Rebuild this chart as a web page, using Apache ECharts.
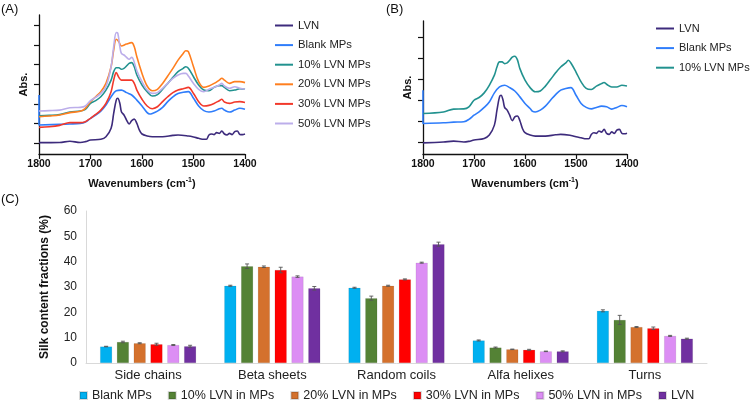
<!DOCTYPE html>
<html>
<head>
<meta charset="utf-8">
<script src="https://cdn.jsdelivr.net/npm/echarts@6/dist/echarts.min.js"></script>
<style>html,body{margin:0;padding:0;background:#fff}#c{width:750px;height:400px}</style>
</head>
<body>
<div id="c"></div>
<script>
// ---------- Panel A (FTIR spectra, arbitrary absorbance units) ----------
const lvnA_wn = [1800,1760,1740,1720,1710,1700,1680,1670,1660,1655,1650,1647,1643,1640,1635,1630,1625,1620,1615,1610,1605,1600,1590,1580,1560,1540,1530,1510,1500,1490,1480,1475,1470,1465,1460,1455,1450,1445,1440,1435,1430,1425,1420,1415,1410,1405,1400];
const lvnA_abs = [0.02,0.03,0.09,0.03,0.07,0.15,0.19,0.32,0.75,1.51,2.19,2.28,2.02,1.60,1.43,1.17,0.97,1.14,1.22,1.00,0.66,0.46,0.36,0.32,0.32,0.39,0.41,0.36,0.31,0.24,0.19,0.19,0.41,0.46,0.43,0.53,0.49,0.61,0.46,0.41,0.49,0.43,0.58,0.61,0.44,0.43,0.46];

const blankA_wn = [1800,1800,1760,1740,1720,1710,1700,1690,1680,1670,1660,1650,1640,1630,1620,1610,1600,1590,1585,1580,1570,1560,1550,1540,1530,1520,1510,1500,1490,1480,1470,1460,1450,1445,1440,1430,1420,1410,1400];
const blankA_abs = [2.45,0.92,0.95,0.97,1.00,1.07,1.26,1.43,1.63,1.94,2.36,2.67,2.70,2.57,2.45,2.19,1.89,1.55,1.48,1.51,1.63,1.82,2.11,2.36,2.53,2.59,2.62,2.28,1.89,1.65,1.58,1.63,1.75,1.77,1.68,1.58,1.68,1.77,1.72];

const p10A_wn = [1800,1780,1760,1740,1720,1710,1700,1690,1680,1670,1660,1655,1650,1645,1640,1635,1630,1625,1620,1615,1610,1600,1590,1580,1570,1560,1550,1540,1530,1520,1515,1510,1500,1490,1480,1470,1460,1450,1445,1440,1430,1420,1410,1400];
const p10A_abs = [1.39,1.41,1.45,1.58,1.63,1.72,2.02,2.16,2.36,2.70,3.21,3.64,3.84,3.84,3.76,3.81,3.93,4.06,4.10,3.89,3.47,2.96,2.62,2.40,2.47,2.74,3.04,3.35,3.64,3.81,3.89,3.81,3.38,2.96,2.70,2.67,2.84,2.93,2.93,2.84,2.67,2.70,2.77,2.74];

const p20A_wn = [1800,1780,1760,1740,1720,1710,1700,1690,1680,1670,1660,1655,1650,1645,1640,1630,1620,1615,1610,1600,1590,1580,1570,1560,1550,1540,1530,1520,1515,1510,1500,1490,1480,1470,1460,1450,1445,1440,1430,1420,1410,1400];
const p20A_abs = [1.34,1.38,1.43,1.55,1.62,1.77,2.11,2.36,2.62,3.04,3.89,4.74,5.29,5.17,4.95,5.05,5.12,4.91,4.40,3.55,2.91,2.67,2.74,3.04,3.42,3.81,4.23,4.57,4.71,4.66,3.89,3.13,2.84,2.91,3.04,3.21,3.30,3.21,3.04,3.13,3.13,3.08];

const p30A_wn = [1800,1780,1760,1740,1720,1710,1700,1690,1680,1670,1660,1655,1650,1645,1640,1630,1620,1615,1610,1600,1590,1580,1570,1560,1550,1540,1530,1520,1510,1500,1490,1480,1470,1460,1450,1445,1440,1430,1420,1410,1400];
const p30A_abs = [0.80,0.83,0.90,1.04,1.04,1.09,1.26,1.46,1.68,2.02,2.62,3.21,3.59,3.35,3.21,3.21,3.21,3.04,2.70,2.23,1.89,1.75,1.85,2.11,2.36,2.57,2.70,2.77,2.84,2.53,2.11,1.89,1.92,2.02,2.16,2.23,2.09,2.02,2.09,2.11,2.07];

const p50A_wn = [1800,1780,1760,1740,1720,1710,1700,1690,1680,1670,1660,1655,1650,1647,1643,1640,1635,1630,1625,1620,1617,1610,1600,1590,1580,1570,1560,1550,1540,1530,1520,1515,1510,1500,1490,1480,1470,1460,1450,1445,1440,1430,1420,1410,1400];
const p50A_abs = [1.63,1.65,1.68,1.80,1.82,1.89,2.16,2.33,2.53,2.87,3.89,4.91,5.63,5.60,4.91,4.57,4.49,4.37,4.27,4.37,4.27,3.69,3.13,2.70,2.53,2.57,2.79,3.04,3.30,3.47,3.55,3.55,3.42,3.04,2.74,2.62,2.74,2.84,2.96,3.04,2.91,2.79,2.87,2.79,2.74];

// ---------- Panel B ----------
const lvnB_wn = [1800,1760,1740,1720,1710,1700,1680,1670,1660,1655,1650,1647,1643,1640,1635,1630,1625,1620,1615,1610,1605,1600,1590,1580,1560,1540,1530,1510,1500,1490,1480,1475,1470,1465,1460,1455,1450,1445,1440,1435,1430,1425,1420,1415,1410,1405,1400];
const lvnB_abs = [-0.02,0.02,0.06,0.02,0.05,0.11,0.19,0.35,0.82,1.53,2.16,2.24,2.00,1.66,1.53,1.29,1.03,1.21,1.25,1.03,0.66,0.46,0.35,0.30,0.30,0.36,0.38,0.33,0.27,0.22,0.17,0.17,0.38,0.46,0.43,0.54,0.49,0.62,0.43,0.38,0.50,0.43,0.58,0.62,0.43,0.41,0.44];

const blankB_wn = [1800,1800,1760,1740,1720,1710,1700,1690,1680,1670,1660,1650,1640,1630,1620,1610,1600,1590,1585,1580,1570,1560,1550,1540,1530,1520,1510,1500,1490,1480,1470,1460,1450,1440,1430,1420,1410,1400];
const blankB_abs = [2.48,0.90,0.93,0.96,0.98,1.09,1.29,1.45,1.66,1.92,2.35,2.63,2.71,2.60,2.44,2.16,1.85,1.61,1.47,1.44,1.53,1.72,2.00,2.27,2.48,2.56,2.60,2.24,1.85,1.66,1.59,1.66,1.72,1.69,1.58,1.66,1.75,1.69];

const p10B_wn = [1800,1760,1740,1720,1710,1700,1690,1680,1670,1660,1655,1650,1645,1640,1635,1630,1625,1620,1615,1610,1600,1590,1580,1570,1560,1550,1540,1530,1520,1515,1510,1500,1490,1480,1470,1460,1450,1445,1440,1430,1420,1410,1400];
const p10B_abs = [1.37,1.44,1.58,1.59,1.69,2.00,2.13,2.35,2.71,3.19,3.58,3.82,3.82,3.74,3.77,3.90,4.05,4.09,3.93,3.50,2.95,2.60,2.40,2.44,2.67,2.98,3.30,3.58,3.77,3.90,3.77,3.34,2.87,2.56,2.51,2.67,2.79,2.84,2.76,2.63,2.63,2.71,2.68];

const spectraTicksA = [0,1,2,3,4,5,6];
const spectraTicksB = [0,1,2,3,4,5];

// ---------- Panel C (secondary structure, %) ----------
const structures = ['Side chains','Beta sheets','Random coils','Alfa helixes','Turns'];
const barNames = ['Blank MPs','10% LVN in MPs','20% LVN in MPs','30% LVN in MPs','50% LVN in MPs','LVN'];
const blankC = [6.5, 30.5, 29.7, 8.9, 20.6];
const p10C   = [8.3, 38.2, 25.6, 6.1, 17.0];
const p20C   = [7.8, 38.0, 30.5, 5.4, 14.2];
const p30C   = [7.4, 36.7, 33.0, 5.2, 13.7];
const p50C   = [7.1, 34.1, 39.6, 4.6, 10.7];
const lvnC   = [6.6, 29.5, 46.9, 4.6, 9.6];
const blankErr = [0.1, 0.2, 0.2, 0.2, 0.4];
const p10Err   = [0.3, 0.9, 0.8, 0.2, 1.8];
const p20Err   = [0.2, 0.3, 0.2, 0.1, 0.2];
const p30Err   = [0.4, 1.1, 0.2, 0.2, 0.5];
const p50Err   = [0.2, 0.3, 0.2, 0.1, 0.2];
const lvnErr   = [0.4, 0.7, 0.8, 0.2, 0.2];

const FONT = '"Liberation Sans", Arial, Helvetica, sans-serif';
const lineColors = {LVN:'#3d2b7c', Blank:'#2f7dfb', p10:'#22928f', p20:'#ff7f1f', p30:'#f2392b', p50:'#bcaeea'};
const barColors = ['#00b0f0','#548235','#d4712d','#ff0000','#dc8ef4','#7030a0'];

function pairs(wn, v){ return wn.map((w,i)=>[w, v[i]]); }
function lineSeries(name, idx, wn, v, color){
  return {type:'line', name:name, xAxisIndex:idx, yAxisIndex:idx, data:pairs(wn,v),
    showSymbol:false, symbol:'none', smooth:0.35, z:3,
    itemStyle:{color:color}, lineStyle:{color:color, width:1.6}, emphasis:{disabled:true}};
}
function specX(idx){
  return {type:'value', gridIndex:idx, min:1400, max:1800, interval:100, inverse:true,
    name:'Wavenumbers (cm{sup|-1})', nameLocation:'middle', nameGap:23,
    nameTextStyle:{fontFamily:FONT, fontSize:11, fontWeight:'bold', color:'#111',
      rich:{sup:{fontFamily:FONT, fontSize:7, fontWeight:'bold', color:'#111', padding:[0,0,6,0]}}},
    axisLine:{onZero:false, lineStyle:{color:'#111', width:1.3}},
    axisTick:{show:true, length:5, lineStyle:{color:'#111', width:1.2}},
    axisLabel:{fontFamily:FONT, fontSize:10.5, fontWeight:'bold', color:'#111', margin:5,
      formatter:v => String(v)},
    splitLine:{show:false}};
}
function specY(idx, min, max, ticks){
  return {type:'value', gridIndex:idx, min:min, max:max,
    name:'Abs.', nameLocation:'middle', nameGap:10, nameRotate:90,
    nameTextStyle:{fontFamily:FONT, fontSize:11, fontWeight:'bold', color:'#111'},
    axisLine:{show:true, onZero:false, lineStyle:{color:'#111', width:1.3}},
    axisTick:{show:true, length:5, customValues:ticks, lineStyle:{color:'#111', width:1.2}},
    axisLabel:{show:false, customValues:ticks},
    splitLine:{show:false}};
}

const barSeriesData = [blankC,p10C,p20C,p30C,p50C,lvnC];
const errData = [blankErr,p10Err,p20Err,p30Err,p50Err,lvnErr];
const BAR_W = 12, BAR_GAP = 0.4;
const errItems = [];
barSeriesData.forEach((arr, s)=>arr.forEach((v, c)=>errItems.push([c, v, errData[s][c], s])));

const series = [
  lineSeries('A|LVN',0,lvnA_wn,lvnA_abs,lineColors.LVN),
  lineSeries('A|Blank MPs',0,blankA_wn,blankA_abs,lineColors.Blank),
  lineSeries('A|10% LVN MPs',0,p10A_wn,p10A_abs,lineColors.p10),
  lineSeries('A|20% LVN MPs',0,p20A_wn,p20A_abs,lineColors.p20),
  lineSeries('A|30% LVN MPs',0,p30A_wn,p30A_abs,lineColors.p30),
  lineSeries('A|50% LVN MPs',0,p50A_wn,p50A_abs,lineColors.p50),
  lineSeries('B|LVN',1,lvnB_wn,lvnB_abs,lineColors.LVN),
  lineSeries('B|Blank MPs',1,blankB_wn,blankB_abs,lineColors.Blank),
  lineSeries('B|10% LVN MPs',1,p10B_wn,p10B_abs,lineColors.p10)
];
barNames.forEach((n,i)=>series.push({type:'bar', name:n, xAxisIndex:2, yAxisIndex:2,
  data:barSeriesData[i], barWidth:BAR_W, barGap:(BAR_GAP*100)+'%',
  itemStyle:{color:barColors[i], borderColor:'rgba(0,0,0,0.15)', borderWidth:0.5}, emphasis:{disabled:true}}));
series.push({type:'custom', name:'err', xAxisIndex:2, yAxisIndex:2, data:errItems, z:5, silent:true,
  encode:{x:0, y:1},
  renderItem:function(params, api){
    const c = api.value(0), v = api.value(1), e = api.value(2), s = api.value(3);
    const off = (s - 2.5) * BAR_W * (1 + BAR_GAP);
    const top = api.coord([c, v + e]);
    const bot = api.coord([c, v - e]);
    const x = top[0] + off;
    const st = {stroke:'#555', lineWidth:0.9};
    return {type:'group', children:[
      {type:'line', shape:{x1:x, y1:top[1], x2:x, y2:bot[1]}, style:st},
      {type:'line', shape:{x1:x-2, y1:top[1], x2:x+2, y2:top[1]}, style:st},
      {type:'line', shape:{x1:x-2, y1:bot[1], x2:x+2, y2:bot[1]}, style:st}
    ]};
  }});

const stripFmt = n => n.split('|')[1];
const option = {
  animation:false,
  backgroundColor:'#fff',
  textStyle:{fontFamily:FONT},
  title:[
    {text:'(A)', left:-4, top:-2, textStyle:{fontFamily:FONT, fontSize:13, fontWeight:'normal', color:'#111'}},
    {text:'(B)', left:381, top:-2, textStyle:{fontFamily:FONT, fontSize:13, fontWeight:'normal', color:'#111'}},
    {text:'(C)', left:-4, top:188, textStyle:{fontFamily:FONT, fontSize:13, fontWeight:'normal', color:'#111'}}
  ],
  grid:[
    {left:39, top:15, width:206, height:139},
    {left:423, top:21, width:204, height:133},
    {left:86, top:211, width:621, height:152}
  ],
  xAxis:[
    specX(0), specX(1),
    {type:'category', gridIndex:2, data:structures,
      axisLine:{lineStyle:{color:'#d9d9d9', width:1}}, axisTick:{show:false},
      axisLabel:{fontFamily:FONT, fontSize:13, color:'#222', margin:6}}
  ],
  yAxis:[
    specY(0, -0.56, 6.53, spectraTicksA),
    specY(1, -0.55, 5.76, spectraTicksB),
    {type:'value', gridIndex:2, min:0, max:60, interval:10,
      name:'Silk content fractions (%)', nameLocation:'middle', nameGap:35,
      nameTextStyle:{fontFamily:FONT, fontSize:12, fontWeight:'bold', color:'#111'},
      axisLine:{show:true, lineStyle:{color:'#d9d9d9', width:1}}, axisTick:{show:false},
      axisLabel:{fontFamily:FONT, fontSize:12, color:'#222', margin:9},
      splitLine:{show:false}}
  ],
  legend:[
    {data:['A|LVN','A|Blank MPs','A|10% LVN MPs','A|20% LVN MPs','A|30% LVN MPs','A|50% LVN MPs'],
      formatter:stripFmt, orient:'vertical', left:275, top:20, itemGap:8.6, itemWidth:18, itemHeight:2,
      icon:'rect', selectedMode:false, padding:0,
      textStyle:{fontFamily:FONT, fontSize:11.3, color:'#222'}},
    {data:['B|LVN','B|Blank MPs','B|10% LVN MPs'],
      formatter:stripFmt, orient:'vertical', left:656, top:23, itemGap:8.6, itemWidth:18, itemHeight:2,
      icon:'rect', selectedMode:false, padding:0,
      textStyle:{fontFamily:FONT, fontSize:11, color:'#222'}},
    {data:barNames, orient:'horizontal', left:79, top:389, itemGap:16, itemWidth:7, itemHeight:7,
      icon:'rect', selectedMode:false, padding:0,
      textStyle:{fontFamily:FONT, fontSize:12.5, color:'#222'}}
  ],
  series:series
};
const chart = echarts.init(document.getElementById('c'), null, {renderer:'canvas'});
chart.setOption(option);
</script>
</body>
</html>
